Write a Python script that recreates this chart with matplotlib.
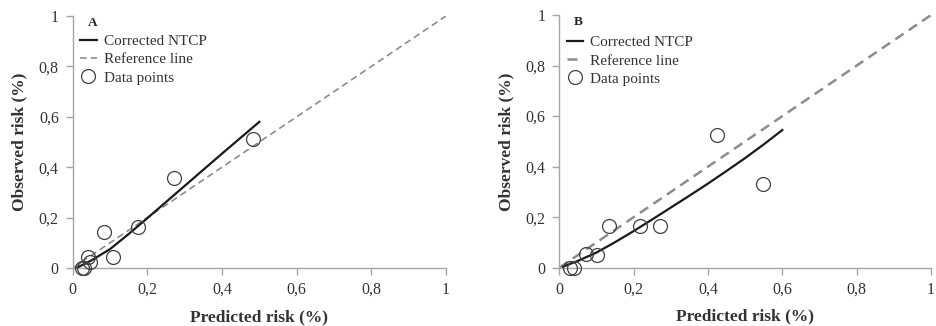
import matplotlib
matplotlib.use("Agg")
import matplotlib.pyplot as plt
from matplotlib.ticker import FuncFormatter

# Panel A data
a_pred = [0.026, 0.031, 0.042, 0.046, 0.084, 0.107, 0.175, 0.271, 0.484]
a_obs = [0.0, 0.0, 0.045, 0.022, 0.143, 0.045, 0.161, 0.356, 0.511]
a_curve_x = [0.01, 0.05, 0.10, 0.15, 0.20, 0.25, 0.30, 0.35, 0.40, 0.45, 0.50]
a_curve_y = [0.0, 0.03, 0.075, 0.135, 0.198, 0.262, 0.326, 0.39, 0.454, 0.517, 0.58]

# Panel B data
b_pred = [0.030, 0.039, 0.073, 0.102, 0.134, 0.217, 0.272, 0.424, 0.547]
b_obs = [0.0, 0.0, 0.054, 0.050, 0.166, 0.166, 0.166, 0.525, 0.332]
b_curve_x = [0.01, 0.05, 0.10, 0.15, 0.20, 0.25, 0.30, 0.35, 0.40, 0.45, 0.50, 0.55, 0.60]
b_curve_y = [0.004, 0.027, 0.06, 0.101, 0.145, 0.191, 0.238, 0.285, 0.333, 0.383, 0.434, 0.488, 0.545]

ref_x = [0, 1]
ref_y = [0, 1]
ticks = [0, 0.2, 0.4, 0.6, 0.8, 1]
labels_leg = ["Corrected NTCP", "Reference line", "Data points"]

SERIF = ["Liberation Serif", "DejaVu Serif"]
plt.rcParams['font.family'] = SERIF

fig = plt.figure(figsize=(9.37, 3.26), dpi=100)
axA = fig.add_axes([0.0776, 0.1779, 0.3984, 0.773])
axB = fig.add_axes([0.5969, 0.1788, 0.3967, 0.775])

def fmt(v, pos):
    s = ("%g" % round(v, 2))
    return s.replace(".", ",")

def style(ax, panel, cx, cy, px, py, dash_lw, leg_y):
    ax.plot(cx, cy, color="#1a1a1a", lw=1.6, label=labels_leg[0], zorder=3)
    ax.plot(ref_x, ref_y, color="#8c8c8c", lw=dash_lw, ls=(0, (4, 2.5)), label=labels_leg[1], zorder=2)
    ax.plot(px, py, ls="none", marker="o", ms=10, mfc="none", mec="#404040", mew=0.9,
            label=labels_leg[2], zorder=4, clip_on=False)
    ax.set_xlim(0, 1)
    ax.set_ylim(0, 1)
    ax.set_xticks(ticks)
    ax.set_yticks(ticks)
    ax.xaxis.set_major_formatter(FuncFormatter(fmt))
    ax.yaxis.set_major_formatter(FuncFormatter(fmt))
    for s in ["top", "right"]:
        ax.spines[s].set_visible(False)
    for s in ["left", "bottom"]:
        ax.spines[s].set_color("#a6a6a6")
        ax.spines[s].set_linewidth(1.0)
    ax.tick_params(direction="out", length=5, width=1.0, color="#a6a6a6",
                   labelsize=11.5, labelcolor="#333333", pad=5)
    ax.set_xlabel("Predicted risk (%)", fontsize=12.5, fontweight="bold", color="#333333", labelpad=8)
    ax.set_ylabel("Observed risk (%)", fontsize=12.5, fontweight="bold", color="#333333", labelpad=8)
    ax.text(0.04, 0.995, panel, transform=ax.transAxes, fontsize=9.5, fontweight="bold",
            color="#222222", va="top", ha="left")
    leg = ax.legend(loc="upper left", bbox_to_anchor=(-0.005, leg_y), frameon=False,
                    fontsize=11, handlelength=1.1, handletextpad=0.45, labelspacing=0.3,
                    borderaxespad=0.2, labelcolor="#333333")
    return leg

style(axA, "A", a_curve_x, a_curve_y, a_pred, a_obs, 1.2, 0.963)
style(axB, "B", b_curve_x, b_curve_y, b_pred, b_obs, 1.8, 0.955)

fig.savefig("out.png", dpi=100)
